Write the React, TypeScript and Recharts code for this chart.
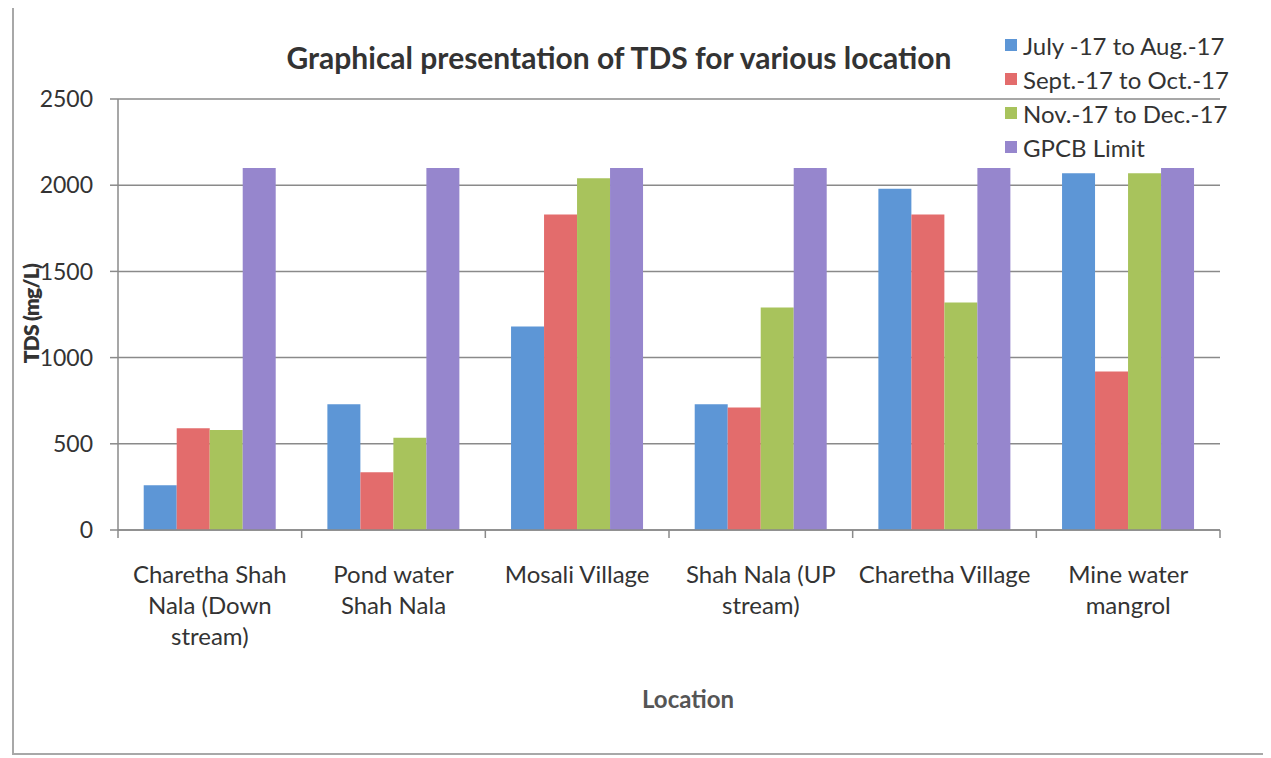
import { BarChart, Bar, XAxis, YAxis, CartesianGrid, Legend } from 'recharts';

const locations = [
  'Charetha Shah\nNala (Down\nstream)',
  'Pond water\nShah Nala',
  'Mosali Village',
  'Shah Nala (UP\nstream)',
  'Charetha Village',
  'Mine water\nmangrol',
];
const julAug = [260, 730, 1180, 730, 1980, 2070];
const septOct = [590, 335, 1830, 710, 1830, 920];
const novDec = [580, 535, 2040, 1290, 1320, 2070];
const gpcbLimit = [2100, 2100, 2100, 2100, 2100, 2100];
const yTicks = [0, 500, 1000, 1500, 2000, 2500];

const series = [
  { key: 'julAug', name: 'July -17 to Aug.-17', color: '#5d96d6' },
  { key: 'septOct', name: 'Sept.-17 to Oct.-17', color: '#e36c6c' },
  { key: 'novDec', name: 'Nov.-17 to Dec.-17', color: '#a8c35c' },
  { key: 'gpcb', name: 'GPCB Limit', color: '#9686cd' },
];

const data = locations.map((loc, i) => ({
  loc,
  julAug: julAug[i],
  septOct: septOct[i],
  novDec: novDec[i],
  gpcb: gpcbLimit[i],
}));

const font = 'Lato, "Open Sans", sans-serif';
const W = 1252;
const H = 746;
const margin = { top: 92, right: 46, left: 0, bottom: 93 };
const yAxisWidth = 104;
const band = (W - margin.left - margin.right - yAxisWidth) / locations.length;
const gridColor = '#8a8a8a';

function LocationTick({ x, y, payload, index }: any) {
  const lines = String(payload.value).split('\n');
  const left = x - band / 2;
  const right = x + band / 2;
  return (
    <g>
      <line x1={left} x2={left} y1={y} y2={y + 8} stroke={gridColor} strokeWidth={1.5} />
      {index === locations.length - 1 && (
        <line x1={right} x2={right} y1={y} y2={y + 8} stroke={gridColor} strokeWidth={1.5} />
      )}
      <text x={x} y={y + 53} textAnchor="middle" fill="#333" fontSize={24} fontFamily={font}>
        {lines.map((l, i) => (
          <tspan key={i} x={x} dy={i === 0 ? 0 : 31}>
            {l}
          </tspan>
        ))}
      </text>
    </g>
  );
}

function LegendBox() {
  return (
    <div style={{ fontFamily: font, fontSize: 24, color: '#333' }}>
      {series.map((s) => (
        <div key={s.key} style={{ display: 'flex', alignItems: 'center', height: 34 }}>
          <span style={{ width: 12, height: 12, background: s.color, marginRight: 6 }} />
          <span>{s.name}</span>
        </div>
      ))}
    </div>
  );
}

export default function App() {
  return (
    <div
      style={{
        position: 'relative',
        width: W,
        height: H,
        marginTop: -3,
        marginLeft: 4,
        border: '2px solid #a8a8a8',
        background: '#fff',
        fontFamily: font,
      }}
    >
      <div
        style={{
          position: 'absolute',
          left: 0,
          width: 1210,
          top: 32,
          textAlign: 'center',
          fontSize: 30,
          fontWeight: 700,
          color: '#333',
        }}
      >
        Graphical presentation of TDS for various location
      </div>
      <div
        style={{
          position: 'absolute',
          left: 16 - 80,
          top: 308 - 14,
          width: 160,
          textAlign: 'center',
          transform: 'rotate(-90deg)',
          fontSize: 21,
          letterSpacing: -0.8,
          fontWeight: 800,
          color: '#333',
        }}
      >
        TDS (mg/L)
      </div>
      <div
        style={{
          position: 'absolute',
          left: 574,
          top: 677,
          width: 200,
          textAlign: 'center',
          fontSize: 24,
          fontWeight: 700,
          color: '#555',
        }}
      >
        Location
      </div>
      <BarChart width={W} height={H} data={data} margin={margin} barCategoryGap="14%" barGap={0}>
        <CartesianGrid vertical={false} stroke={gridColor} strokeWidth={1.5} />
        <XAxis
          dataKey="loc"
          interval={0}
          axisLine={{ stroke: gridColor, strokeWidth: 1.5 }}
          tickLine={false}
          tickSize={0}
          tickMargin={0}
          height={130}
          tick={<LocationTick />}
        />
        <YAxis
          width={yAxisWidth}
          domain={[0, 2500]}
          ticks={yTicks}
          axisLine={{ stroke: gridColor, strokeWidth: 1.5 }}
          tickLine={{ stroke: gridColor, strokeWidth: 1.5 }}
          tickSize={8}
          tickMargin={17}
          tick={{ fill: '#333', fontSize: 23, fontFamily: font }}
        />
        <Legend
          layout="vertical"
          verticalAlign="middle"
          align="center"
          content={<LegendBox />}
          wrapperStyle={{ position: 'absolute', left: 991, top: 21, width: 260 }}
        />
        {series.map((s) => (
          <Bar key={s.key} dataKey={s.key} name={s.name} fill={s.color} isAnimationActive={false} />
        ))}
      </BarChart>
    </div>
  );
}
